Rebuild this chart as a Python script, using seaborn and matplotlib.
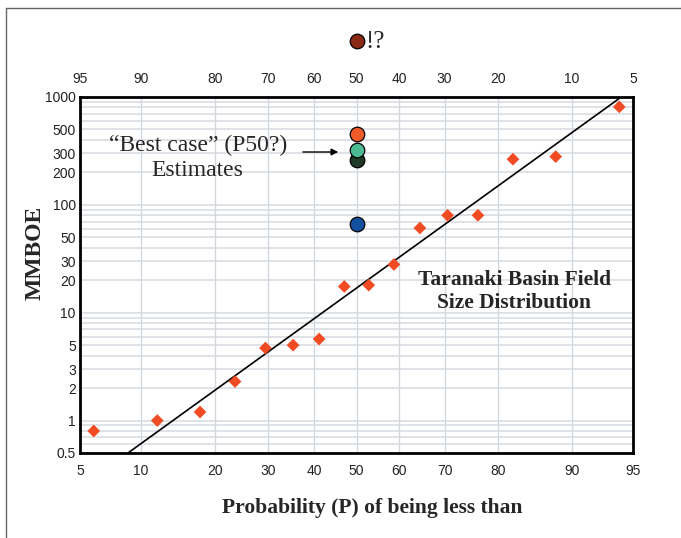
import numpy as np
import pandas as pd
import matplotlib
matplotlib.use("Agg")
import matplotlib.pyplot as plt
from matplotlib.lines import Line2D
import seaborn as sns
from statistics import NormalDist

# ---------------- data ----------------
p_fields = [5.9, 11.8, 17.6, 23.5, 29.4, 35.3, 41.2, 47.1, 52.9, 58.8,
            64.7, 70.6, 76.5, 82.4, 88.2, 94.1]
size_fields = [0.8, 1.0, 1.2, 2.3, 4.7, 5.0, 5.7, 17.5, 18, 28,
               61, 80, 80, 265, 280, 810]

fit_p = [8.7, 94.1]
fit_size = [0.5, 970]

est_p = [50, 50, 50, 50]
est_size = [66, 261, 323, 455]
est_colors = ["#1450a0", "#1e3a26", "#4cbb94", "#f05a28"]

wild_p = [50]
wild_size = [3300]
wild_color = "#8b2a14"

x_ticks = [5, 10, 20, 30, 40, 50, 60, 70, 80, 90, 95]
x_top_labels = ["95", "90", "80", "70", "60", "50", "40", "30", "20", "10", "5"]
y_ticks = [0.5, 1, 2, 3, 5, 10, 20, 30, 50, 100, 200, 300, 500, 1000]
y_labels = ["0.5", "1", "2", "3", "5", "10", "20", "30", "50", "100", "200", "300", "500", "1000"]

# ---------------- probability scale ----------------
_nd = NormalDist()
_inv_cdf = np.vectorize(_nd.inv_cdf, otypes=[float])
_cdf = np.vectorize(_nd.cdf, otypes=[float])


def prob_fwd(p):
    p = np.clip(np.asarray(p, dtype=float) / 100.0, 1e-9, 1 - 1e-9)
    return _inv_cdf(p)


def prob_inv(z):
    z = np.asarray(z, dtype=float)
    return _cdf(z) * 100.0


sns.set_theme(style="white")
plt.rcParams["font.family"] = ["Liberation Sans", "DejaVu Sans"]

fig = plt.figure(figsize=(6.81, 5.38), dpi=100)
ax = fig.add_axes([80 / 681, (538 - 453) / 538, (633 - 80) / 681, (453 - 97) / 538])

df_fields = pd.DataFrame({"p": p_fields, "size": size_fields})
df_fit = pd.DataFrame({"p": fit_p, "size": fit_size})

sns.lineplot(data=df_fit, x="p", y="size", color="black", lw=1.2, ax=ax, zorder=3)
sns.scatterplot(data=df_fields, x="p", y="size", marker="D", s=42,
                color="#f04b22", edgecolor="none", ax=ax, zorder=4)

for px, sv, c in zip(est_p, est_size, est_colors):
    ax.scatter([px], [sv], s=110, color=c, edgecolor="black", linewidth=0.9, zorder=5)

wild = ax.scatter(wild_p, wild_size, s=110, color=wild_color, edgecolor="black",
                  linewidth=0.9, zorder=5, clip_on=False)
ax.annotate("!?", xy=(wild_p[0], wild_size[0]), xytext=(6.5, -1), textcoords="offset points",
            ha="left", va="center", fontsize=18, family="Liberation Serif", annotation_clip=False)

ax.set_xscale("function", functions=(prob_fwd, prob_inv))
ax.set_yscale("log")
ax.set_xlim(5, 95)
ax.set_ylim(0.5, 1000)

ax.set_xticks(x_ticks)
ax.set_xticklabels([str(t) for t in x_ticks])
ax.xaxis.set_minor_locator(matplotlib.ticker.NullLocator())
ax.set_yticks(y_ticks)
ax.set_yticklabels(y_labels)
minor_y = [v * d for d in (0.1, 1, 10, 100) for v in range(1, 10)]
minor_y = [v for v in minor_y if 0.5 < v < 1000 and v not in y_ticks]
ax.set_yticks(minor_y, minor=True)
ax.tick_params(axis="both", which="both", length=0, labelsize=10, colors="#222222")
ax.tick_params(axis="x", pad=8)
ax.tick_params(axis="y", pad=3)

ax.grid(True, axis="x", which="major", color="#d3d7dc", lw=1.0)
ax.grid(True, axis="y", which="both", color="#d6dadf", lw=1.1)
ax.set_axisbelow(True)

for s in ax.spines.values():
    s.set_color("black")
    s.set_linewidth(2)

ax.set_xlabel("Probability (P) of being less than", fontsize=15.5, fontweight="bold",
              family="Liberation Serif")
ax.xaxis.set_label_coords(0.528, -0.125)
ax.set_ylabel("MMBOE", fontsize=17, fontweight="bold", family="Liberation Serif")
ax.yaxis.set_label_coords(-0.063, 0.562)

# top axis (complementary probability)
ax2 = ax.twiny()
ax2.set_xscale("function", functions=(prob_fwd, prob_inv))
ax2.set_xlim(5, 95)
ax2.set_xticks(x_ticks)
ax2.set_xticklabels(x_top_labels)
ax2.xaxis.set_minor_locator(matplotlib.ticker.NullLocator())
ax2.tick_params(axis="x", length=0, labelsize=10, colors="#222222", pad=8)
for s in ax2.spines.values():
    s.set_visible(False)

ax.text(0.785, 0.455, "Taranaki Basin Field\nSize Distribution", transform=ax.transAxes,
        ha="center", va="center", fontsize=15.5, fontweight="bold",
        family="Liberation Serif", linespacing=1.2)
ax.text(0.213, 0.829, "\u201cBest case\u201d (P50?)\nEstimates", transform=ax.transAxes,
        ha="center", va="center", fontsize=17, family="Liberation Serif", linespacing=1.2)
ax.annotate("", xy=(0.472, 0.8455), xytext=(0.398, 0.8455), xycoords="axes fraction",
            arrowprops=dict(arrowstyle="-|>", color="black", lw=1.0, mutation_scale=10))

# outer frame lines (top and left)
fig.add_artist(Line2D([5.5 / 681, 1.0], [1 - 7.5 / 538, 1 - 7.5 / 538],
                      transform=fig.transFigure, color="#666666", lw=1.0))
fig.add_artist(Line2D([5.5 / 681, 5.5 / 681], [0.0, 1 - 7.5 / 538],
                      transform=fig.transFigure, color="#666666", lw=1.0))

fig.savefig("out.png", dpi=100)
